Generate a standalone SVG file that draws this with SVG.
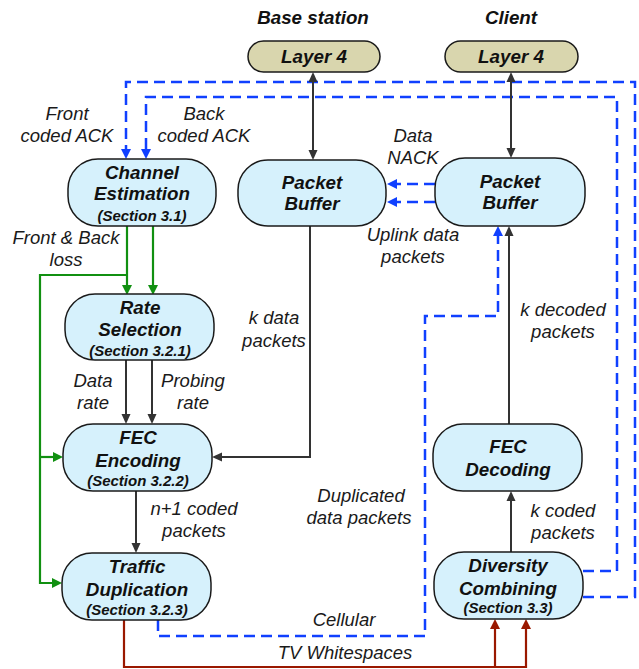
<svg xmlns="http://www.w3.org/2000/svg" width="639" height="669" viewBox="0 0 639 669">
<style>
.node{fill:#d6f1fc;stroke:#1a1a1a;stroke-width:1.5}
.l4{fill:#d9d6ae;stroke:#1a1a1a;stroke-width:1.5}
.t{font-family:"Liberation Sans",Arial,sans-serif;font-weight:bold;font-style:italic;font-size:18.8px;text-anchor:middle;fill:#111}
.s{font-family:"Liberation Sans",Arial,sans-serif;font-weight:bold;font-style:italic;font-size:15px;text-anchor:middle;fill:#111}
.lb{font-family:"Liberation Sans",Arial,sans-serif;font-style:italic;font-size:18.5px;text-anchor:middle;fill:#1a1a1a}
.blue{fill:none;stroke:#1040ff;stroke-width:2.5;stroke-dasharray:11 6}
.blk{fill:none;stroke:#333;stroke-width:2}
.grn{fill:none;stroke:#119011;stroke-width:2.2}
.red{fill:none;stroke:#9a1800;stroke-width:2.2}
</style>
<defs>
<marker id="ab" markerUnits="userSpaceOnUse" markerWidth="12" markerHeight="10" refX="2" refY="5" orient="auto-start-reverse"><path d="M0,0 L10,5 L0,10 z" fill="#1040ff"/></marker>
<marker id="ak" markerUnits="userSpaceOnUse" markerWidth="12" markerHeight="10" refX="2" refY="5" orient="auto-start-reverse"><path d="M0,0.5 L10,5 L0,9.5 z" fill="#333"/></marker>
<marker id="ag" markerUnits="userSpaceOnUse" markerWidth="12" markerHeight="10" refX="2" refY="5" orient="auto-start-reverse"><path d="M0,0 L10,5 L0,10 z" fill="#119011"/></marker>
<marker id="ar" markerUnits="userSpaceOnUse" markerWidth="12" markerHeight="10" refX="2" refY="5" orient="auto-start-reverse"><path d="M0,0 L10,5 L0,10 z" fill="#9a1800"/></marker>
</defs>

<text class="t" x="313" y="24">Base station</text>
<text class="t" x="511" y="24">Client</text>

<g id="connectors">
<path class="blue" d="M583,597 H635 V82 H126 V151" marker-end="url(#ab)"/>
<path class="blue" d="M583,571 H617 V97 H146 V151" marker-end="url(#ab)"/>
<path class="blue" d="M435,184 H395" marker-end="url(#ab)"/>
<path class="blue" d="M435,202 H395" marker-end="url(#ab)"/>
<path class="blue" d="M158,620 V636 H425 V316 H498 V234" marker-end="url(#ab)"/>
<path class="blk" d="M313,80 V152" marker-start="url(#ak)" marker-end="url(#ak)"/>
<path class="blk" d="M511,80 V150" marker-start="url(#ak)" marker-end="url(#ak)"/>
<path class="blk" d="M310,226 V457 H220" marker-end="url(#ak)"/>
<path class="blk" d="M509,424 V234" marker-end="url(#ak)"/>
<path class="blk" d="M126,360 V416" marker-end="url(#ak)"/>
<path class="blk" d="M152,360 V416" marker-end="url(#ak)"/>
<path class="blk" d="M136,491 V545" marker-end="url(#ak)"/>
<path class="blk" d="M511,552 V499" marker-end="url(#ak)"/>
<path class="grn" d="M127,226 V287" marker-end="url(#ag)"/>
<path class="grn" d="M153,226 V287" marker-end="url(#ag)"/>
<path class="grn" d="M127,275 H40 V583 H54" marker-end="url(#ag)"/>
<path class="grn" d="M40,457 H55" marker-end="url(#ag)"/>
<path class="red" d="M124,620 V667 H526 V627" marker-end="url(#ar)"/>
<path class="red" d="M495,667 V627" marker-end="url(#ar)"/>
</g>

<g id="labels">
<text class="lb" x="67" y="120">Front</text>
<text class="lb" x="67" y="142">coded ACK</text>
<text class="lb" x="204" y="120">Back</text>
<text class="lb" x="204" y="142">coded ACK</text>
<text class="lb" x="413" y="142">Data</text>
<text class="lb" x="413" y="164">NACK</text>
<text class="lb" x="66" y="244">Front &amp; Back</text>
<text class="lb" x="66" y="266">loss</text>
<text class="lb" x="413" y="241">Uplink data</text>
<text class="lb" x="413" y="263">packets</text>
<text class="lb" x="274" y="324">k data</text>
<text class="lb" x="274" y="347">packets</text>
<text class="lb" x="563" y="316">k decoded</text>
<text class="lb" x="563" y="338">packets</text>
<text class="lb" x="93" y="387">Data</text>
<text class="lb" x="93" y="409">rate</text>
<text class="lb" x="193" y="387">Probing</text>
<text class="lb" x="193" y="409">rate</text>
<text class="lb" x="194" y="515">n+1 coded</text>
<text class="lb" x="194" y="537">packets</text>
<text class="lb" x="361" y="502">Duplicated</text>
<text class="lb" x="359" y="524">data packets</text>
<text class="lb" x="563" y="517">k coded</text>
<text class="lb" x="563" y="539">packets</text>
<text class="lb" x="344" y="626">Cellular</text>
<text class="lb" x="345" y="659">TV Whitespaces</text>
</g>

<g id="base-layer4"><rect class="l4" x="248" y="41" width="132" height="31" rx="15.5"/><text class="t" x="314" y="63">Layer 4</text></g>
<g id="client-layer4"><rect class="l4" x="445" y="41" width="133" height="31" rx="15.5"/><text class="t" x="511" y="63">Layer 4</text></g>

<g id="channel-estimation"><rect class="node" x="68" y="159" width="148" height="67" rx="30"/>
<text class="t" x="142" y="179">Channel</text><text class="t" x="142" y="200">Estimation</text><text class="s" x="142" y="221">(Section 3.1)</text></g>

<g id="base-packet-buffer"><rect class="node" x="238" y="160" width="148" height="66" rx="30"/>
<text class="t" x="312" y="189">Packet</text><text class="t" x="312" y="210">Buffer</text></g>

<g id="client-packet-buffer"><rect class="node" x="435" y="158" width="150" height="68" rx="30"/>
<text class="t" x="510" y="188">Packet</text><text class="t" x="510" y="209">Buffer</text></g>

<g id="rate-selection"><rect class="node" x="65" y="294" width="149" height="66" rx="30"/>
<text class="t" x="140" y="314">Rate</text><text class="t" x="140" y="336">Selection</text><text class="s" x="140" y="356">(Section 3.2.1)</text></g>

<g id="fec-encoding"><rect class="node" x="63" y="424" width="149" height="67" rx="30"/>
<text class="t" x="138" y="444">FEC</text><text class="t" x="138" y="467">Encoding</text><text class="s" x="138" y="486">(Section 3.2.2)</text></g>

<g id="traffic-duplication"><rect class="node" x="62" y="553" width="149" height="67" rx="30"/>
<text class="t" x="137" y="573">Traffic</text><text class="t" x="137" y="596">Duplication</text><text class="s" x="137" y="615">(Section 3.2.3)</text></g>

<g id="fec-decoding"><rect class="node" x="433" y="424" width="149" height="67" rx="30"/>
<text class="t" x="508" y="453">FEC</text><text class="t" x="508" y="476">Decoding</text></g>

<g id="diversity-combining"><rect class="node" x="434" y="552" width="149" height="67" rx="30"/>
<text class="t" x="508" y="572">Diversity</text><text class="t" x="508" y="595">Combining</text><text class="s" x="508" y="613">(Section 3.3)</text></g>
</svg>
